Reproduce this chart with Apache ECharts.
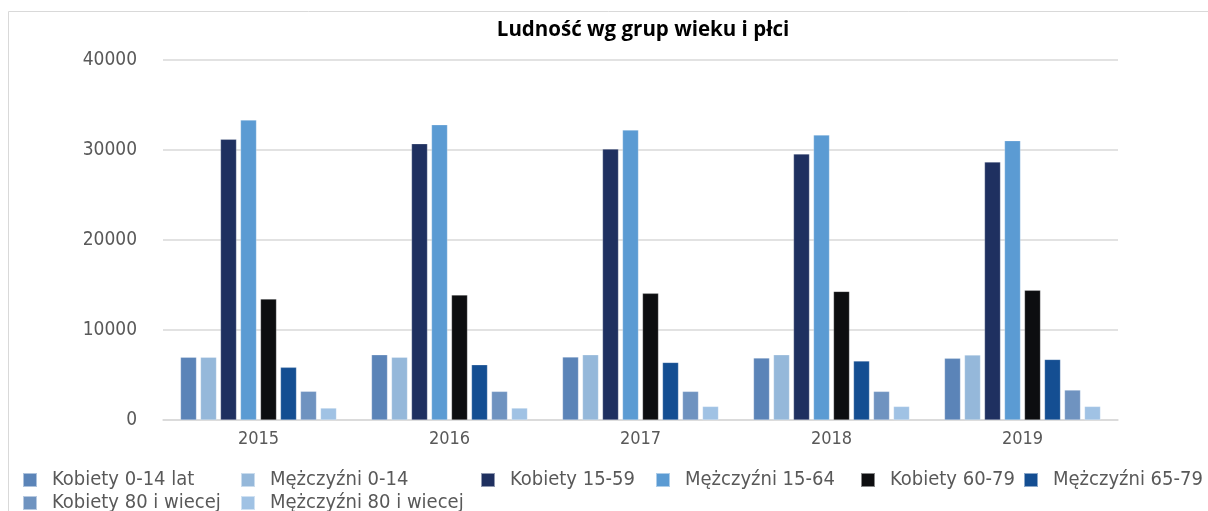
<!DOCTYPE html>
<html>
<head>
<meta charset="utf-8">
<script src="https://cdn.jsdelivr.net/npm/echarts@6/dist/echarts.min.js"></script>
<style>
  html, body { margin: 0; padding: 0; background: #fff; }
  #chart { width: 1208px; height: 511px; }
</style>
</head>
<body>
<div id="chart"></div>
<script>
// categories (years)
const years = ['2015', '2016', '2017', '2018', '2019'];
const yTicks = [0, 10000, 20000, 30000, 40000];

// series values
const kobiety0_14 = [6970, 7250, 7000, 6890, 6850];
const mezczyzni0_14 = [6970, 6970, 7250, 7250, 7220];
const kobiety15_59 = [31190, 30700, 30110, 29560, 28670];
const mezczyzni15_64 = [33330, 32810, 32220, 31670, 31040];
const kobiety60_79 = [13440, 13890, 14070, 14290, 14410];
const mezczyzni65_79 = [5850, 6140, 6400, 6560, 6730];
const kobiety80 = [3190, 3180, 3180, 3180, 3330];
const mezczyzni80 = [1330, 1330, 1510, 1510, 1510];

const seriesNames = ['Kobiety 0-14 lat', 'Mężczyźni 0-14', 'Kobiety 15-59', 'Mężczyźni 15-64',
  'Kobiety 60-79', 'Mężczyźni 65-79', 'Kobiety 80 i wiecej', 'Mężczyźni 80 i wiecej'];
const seriesData = [kobiety0_14, mezczyzni0_14, kobiety15_59, mezczyzni15_64,
  kobiety60_79, mezczyzni65_79, kobiety80, mezczyzni80];
const colors = ['#5B84B8', '#95B8DA', '#1F3060', '#5B9BD3', '#0D0E10', '#144E92', '#6F93C0', '#A0C2E4'];

// legend slot positions (left, top)
const legendPos = [[22, 470], [240, 470], [480, 470], [655, 470], [860, 470], [1023, 470], [22, 493], [240, 493]];

const labelFont = "'Liberation Sans Narrow', 'DejaVu Sans Condensed', 'Liberation Sans', sans-serif";

const chart = echarts.init(document.getElementById('chart'));

const option = {
  animation: false,
  color: colors,
  title: {
    text: 'Ludność wg grup wieku i płci',
    left: 638,
    textAlign: 'center',
    top: 15,
    textStyle: { fontFamily: "'Open Sans', sans-serif", fontWeight: 'bold', fontSize: 20.5, color: '#000' }
  },
  graphic: [{
    type: 'rect',
    shape: { x: 8.5, y: 11.5, width: 1400, height: 700 },
    style: { fill: 'none', stroke: '#d9d9d9', lineWidth: 1 },
    silent: true
  }],
  legend: seriesNames.map((name, i) => ({
    data: [name],
    left: legendPos[i][0],
    top: legendPos[i][1],
    padding: 0,
    itemWidth: 14,
    itemHeight: 14,
    itemGap: 0,
    icon: 'rect',
    textStyle: { fontFamily: labelFont, fontSize: 20, color: '#595959', padding: [0, 0, 0, 10] }
  })),
  grid: { left: 163, right: 90, top: 60, bottom: 91 },
  xAxis: {
    type: 'category',
    data: years,
    axisTick: { show: false },
    axisLine: { lineStyle: { color: '#d9d9d9', width: 1.5 } },
    axisLabel: { fontFamily: labelFont, fontSize: 18, color: '#595959', margin: 10 }
  },
  yAxis: {
    type: 'value',
    min: yTicks[0],
    max: yTicks[yTicks.length - 1],
    interval: 10000,
    axisLabel: { fontFamily: labelFont, fontSize: 19, color: '#595959', margin: 26, formatter: v => String(v) },
    splitLine: { lineStyle: { color: '#d9d9d9', width: 1.5 } }
  },
  series: seriesNames.map((name, i) => ({
    type: 'bar',
    name,
    data: seriesData[i],
    barWidth: 16,
    barGap: '25%',
    itemStyle: { borderColor: 'rgba(255,255,255,0.5)', borderWidth: 0.5 }
  }))
};

chart.setOption(option);
</script>
</body>
</html>
